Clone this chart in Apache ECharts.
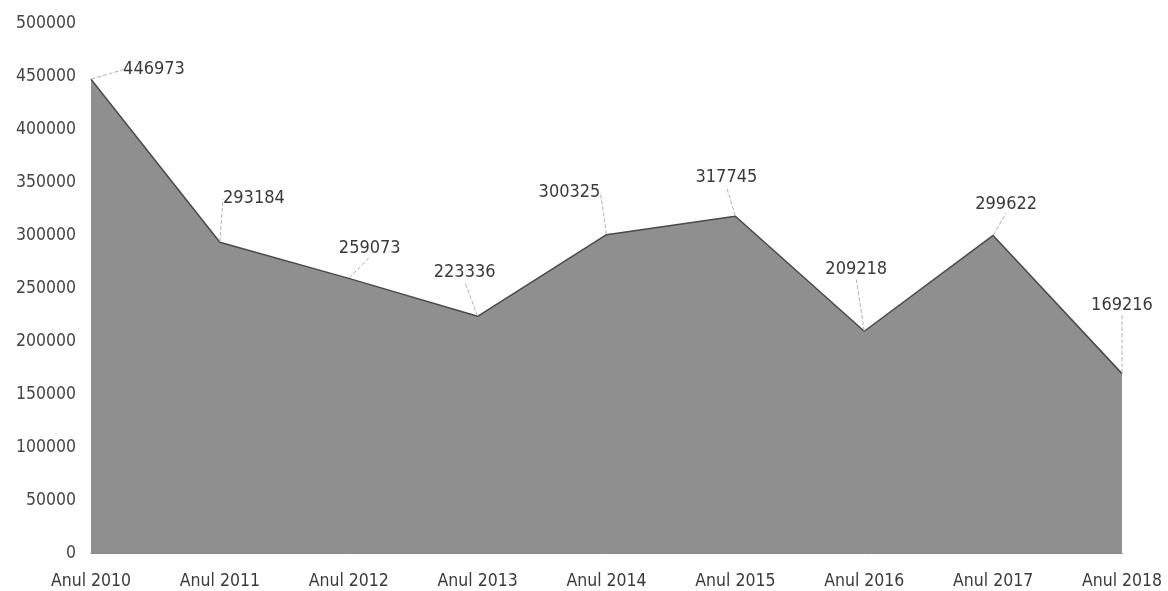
<!DOCTYPE html>
<html><head><meta charset="utf-8">
<script src="https://cdn.jsdelivr.net/npm/echarts@6/dist/echarts.min.js"></script>
<style>html,body{margin:0;padding:0;background:#fff}#c{width:1168px;height:591px}</style>
</head><body><div id="c"></div>
<script>
const categories = ['Anul 2010','Anul 2011','Anul 2012','Anul 2013','Anul 2014','Anul 2015','Anul 2016','Anul 2017','Anul 2018'];
const values = [446973, 293184, 259073, 223336, 300325, 317745, 209218, 299622, 169216];
// label displacement (style only)
const labelShift = [[63,5],[34,-29],[21,-16],[-13,-29],[-37,-28],[-9,-24],[-8,-47],[13,-17],[0,-54]];
const font = '"Liberation Sans Narrow", "DejaVu Sans Condensed", "Liberation Sans", sans-serif';
const chart = echarts.init(document.getElementById('c'));
chart.setOption({
  animation: false,
  grid: {left: 91, right: 46, top: 23, bottom: 38},
  xAxis: {
    type: 'category', data: categories, boundaryGap: false,
    axisLine: {show: true, lineStyle: {color: '#888', width: 1}},
    axisTick: {show: false},
    axisLabel: {color: '#3a3a3a', fontSize: 17.5, fontFamily: font, margin: 19}
  },
  yAxis: {
    type: 'value', min: 0, max: 500000, interval: 50000,
    axisLine: {show: false}, axisTick: {show: false},
    splitLine: {show: false},
    axisLabel: {color: '#444', fontSize: 17.5, fontFamily: font, margin: 15, formatter: v => String(v)}
  },
  series: [{
    type: 'line', data: values, symbol: 'circle', symbolSize: 1, showSymbol: true,
    itemStyle: {color: 'rgba(0,0,0,0)'},
    lineStyle: {color: '#4a4a4a', width: 1.5},
    areaStyle: {color: '#8f8f8f', opacity: 1},
    label: {show: true, position: 'top', color: '#3a3a3a', fontSize: 18, fontFamily: font},
    labelLine: {show: true, lineStyle: {color: '#b0b0b0', width: 1, type: 'dashed'}},
    labelLayout: function (p) {
      const s = labelShift[p.dataIndex];
      return {dx: s[0], dy: s[1]};
    }
  }]
});
</script></body></html>
